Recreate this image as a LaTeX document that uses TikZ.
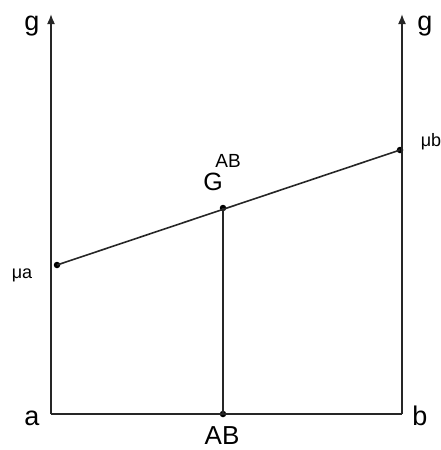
\documentclass[tikz,border=0pt]{standalone}
\usepackage{fontspec}
\setmainfont{Liberation Sans}
\usetikzlibrary{arrows.meta}
\begin{document}
\begin{tikzpicture}[x=1pt,y=-1pt,
  axis/.style={line width=1.6pt,draw=black!85,-{Latex[length=10pt,width=8pt]}},
  ln/.style={line width=1.6pt,draw=black!85},
  dot/.style={circle,fill=black,inner sep=0pt,minimum size=6.5pt},
  big/.style={font=\fontsize{27}{27}\selectfont,inner sep=0pt},
  small/.style={font=\fontsize{18}{18}\selectfont,inner sep=0pt}]
\useasboundingbox (0,0) rectangle (441,450);
\coordinate (a0) at (51,414);
\coordinate (b0) at (402,414);
\coordinate (atop) at (51,14);
\coordinate (btop) at (402,14);
\node[dot] (ma) at (57,265) {};
\node[dot] (mb) at (400,150) {};
\node[dot] (G) at (223,208) {};
\node[dot] (AB) at (223,414) {};
\draw[axis] (a0) -- (atop);
\draw[axis] (b0) -- (btop);
\draw[ln] (a0) -- (b0);
\draw[ln] (ma.center) -- (mb.center);
\draw[ln] (G.center) -- (AB.center);
\node[big,anchor=base] (gl) at (32,30) {g};
\node[big,anchor=base] (gr) at (425,30) {g};
\node[big,anchor=base] (la) at (32,425) {a};
\node[big,anchor=base] (lb) at (420,425) {b};
\node[font=\fontsize{26}{26}\selectfont,inner sep=0pt,anchor=base] (lAB) at (222,444) {AB};
\node[font=\fontsize{25}{25}\selectfont,inner sep=0pt,anchor=base] (lG) at (213,190) {G};
\node[font=\fontsize{19}{19}\selectfont,inner sep=0pt,anchor=base] (lGs) at (228,167) {AB};
\node[small,anchor=base] (lma) at (22,278) {μa};
\node[small,anchor=base] (lmb) at (431,146) {μb};
\end{tikzpicture}
\end{document}
